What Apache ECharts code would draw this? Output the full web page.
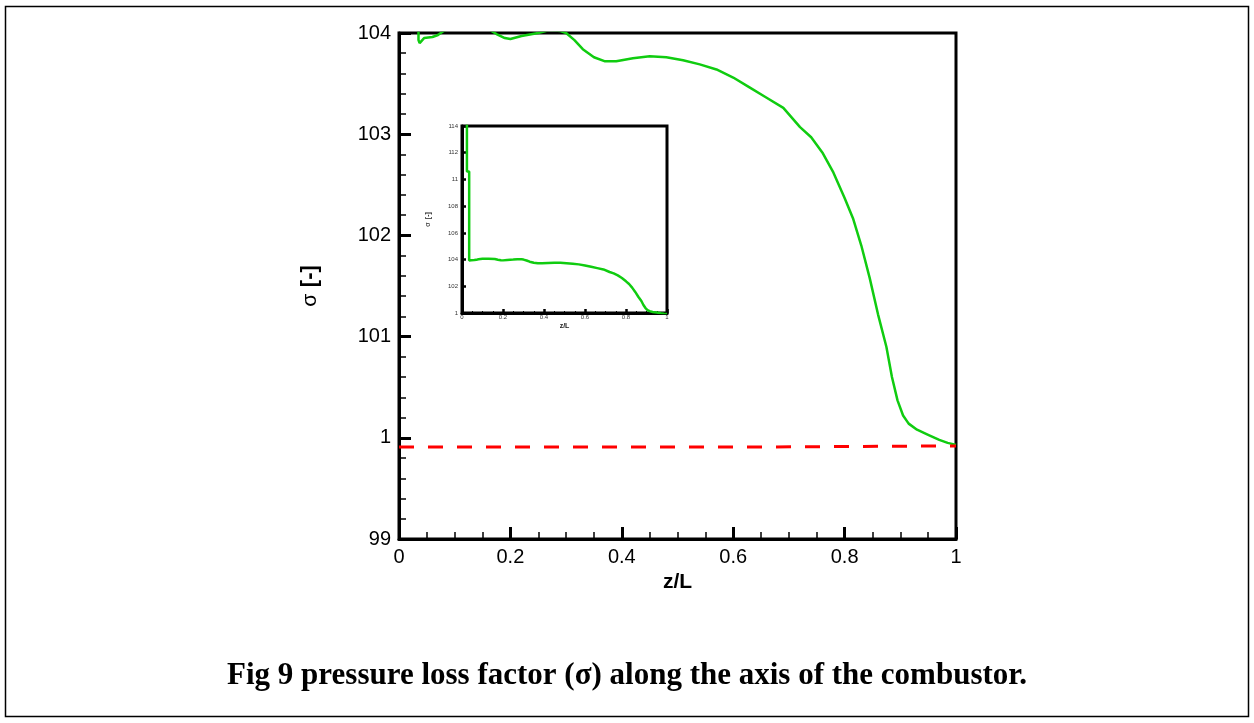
<!DOCTYPE html>
<html>
<head>
<meta charset="utf-8">
<script src="https://cdn.jsdelivr.net/npm/echarts@6/dist/echarts.min.js"></script>
<style>
  html, body { margin: 0; padding: 0; background: #fff; }
  #chart { width: 1254px; height: 723px; }
</style>
</head>
<body>
<div id="chart"></div>
<script>
// axial position z/L and pressure loss factor (green curve, also used for the inset)
const sigmaZ = [0.024, 0.024, 0.035, 0.035, 0.037, 0.045, 0.06, 0.07, 0.08, 0.10, 0.13, 0.16, 0.175, 0.19, 0.20, 0.22, 0.25, 0.27, 0.29, 0.30, 0.315, 0.33, 0.35, 0.37, 0.39, 0.42, 0.45, 0.48, 0.51, 0.54, 0.57, 0.60, 0.63, 0.66, 0.69, 0.72, 0.74, 0.76, 0.78, 0.80, 0.815, 0.83, 0.845, 0.86, 0.875, 0.885, 0.895, 0.905, 0.915, 0.93, 0.95, 0.97, 0.985, 1.0];
const sigmaVal = [115, 110.6, 110.6, 103.93, 103.9, 103.95, 103.96, 103.98, 104.02, 104.06, 104.07, 104.04, 103.99, 103.95, 103.94, 103.97, 104.0, 104.03, 104.02, 104.0, 103.93, 103.84, 103.76, 103.72, 103.72, 103.75, 103.77, 103.76, 103.73, 103.69, 103.64, 103.56, 103.46, 103.36, 103.26, 103.07, 102.97, 102.82, 102.62, 102.37, 102.17, 101.9, 101.58, 101.22, 100.9, 100.6, 100.37, 100.22, 100.14, 100.08, 100.03, 99.98, 99.95, 99.93];

// red dashed reference line
const refZ = [0, 0.668, 0.67, 1.0];
const refVal = [99.91, 99.91, 99.92, 99.92];

// tick labels as printed in the figure
const mainYTicks = [99, 100, 101, 102, 103, 104];
const mainYTickLabels = ['99', '1', '101', '102', '103', '104'];
const insetYTicks = [100, 102, 104, 106, 108, 110, 112, 114];
const insetYTickLabels = ['1', '102', '104', '106', '108', '11', '112', '114'];
const xTicks = [0, 0.2, 0.4, 0.6, 0.8, 1];
const xTickLabels = ['0', '0.2', '0.4', '0.6', '0.8', '1'];

const pairs = (xs, ys) => xs.map((x, i) => [x, ys[i]]);
const labelFor = (ticks, labels) => v => {
  const i = ticks.findIndex(t => Math.abs(t - v) < 1e-6);
  return i >= 0 ? labels[i] : '';
};

const chart = echarts.init(document.getElementById('chart'));

const option = {
  animation: false,
  backgroundColor: '#fff',
  title: {
    text: 'Fig 9 pressure loss factor (σ) along the axis of the combustor.',
    left: 'center',
    top: 655,
    textStyle: { fontFamily: 'Liberation Serif', fontWeight: 'bold', fontSize: 31, color: '#000' }
  },
  graphic: [{
    type: 'rect',
    shape: { x: 5.5, y: 6.5, width: 1243, height: 710 },
    style: { fill: 'none', stroke: '#000', lineWidth: 1.5 },
    silent: true
  }],
  grid: [
    { left: 399, right: 298, top: 33, bottom: 184, show: true, borderColor: '#000', borderWidth: 3 },
    { left: 462, width: 205, top: 126, height: 187, show: true, borderColor: '#000', borderWidth: 3, backgroundColor: '#fff' }
  ],
  xAxis: [{
    gridIndex: 0, type: 'value', min: 0, max: 1, interval: 0.2,
    name: 'z/L', nameLocation: 'middle', nameGap: 32,
    nameTextStyle: { fontFamily: 'Liberation Sans', fontWeight: 'bold', fontSize: 21, color: '#000' },
    axisLine: { lineStyle: { color: '#000', width: 3 } },
    axisTick: { inside: true, length: 12, lineStyle: { color: '#000', width: 3 } },
    minorTick: { show: true, splitNumber: 4, length: 7, lineStyle: { color: '#000', width: 1.5 } },
    splitLine: { show: false },
    axisLabel: { margin: 8, fontFamily: 'Liberation Sans', fontSize: 20, color: '#000', formatter: labelFor(xTicks, xTickLabels) }
  }, {
    gridIndex: 1, type: 'value', min: 0, max: 1, interval: 0.2,
    name: 'z/L', nameLocation: 'middle', nameGap: 10,
    nameTextStyle: { fontFamily: 'Liberation Sans', fontWeight: 'bold', fontSize: 7, color: '#222' },
    axisLine: { lineStyle: { color: '#000', width: 3 } },
    axisTick: { inside: true, length: 4, lineStyle: { color: '#000', width: 2.5 } },
    minorTick: { show: true, splitNumber: 4, length: 2, lineStyle: { color: '#000', width: 1 } },
    splitLine: { show: false },
    axisLabel: { margin: 1, fontFamily: 'Liberation Sans', fontSize: 6, color: '#333', formatter: labelFor(xTicks, xTickLabels) }
  }],
  yAxis: [{
    gridIndex: 0, type: 'value', min: 99, max: 104, interval: 1,
    name: '{s|σ}  {b|[-]}', nameLocation: 'middle', nameGap: 78, nameRotate: 90,
    nameTextStyle: {
      color: '#000',
      rich: {
        s: { fontFamily: 'Liberation Sans', fontSize: 21, color: '#000' },
        b: { fontFamily: 'Liberation Sans', fontWeight: 'bold', fontSize: 22, color: '#000' }
      }
    },
    axisLine: { lineStyle: { color: '#000', width: 3 } },
    axisTick: { inside: true, length: 12, lineStyle: { color: '#000', width: 3 } },
    minorTick: { show: true, splitNumber: 5, length: 7, lineStyle: { color: '#000', width: 1.5 } },
    splitLine: { show: false },
    axisLabel: { margin: 8, fontFamily: 'Liberation Sans', fontSize: 20, color: '#000', formatter: labelFor(mainYTicks, mainYTickLabels) }
  }, {
    gridIndex: 1, type: 'value', min: 100, max: 114, interval: 2,
    name: '{s|σ} {b|[-]}', nameLocation: 'middle', nameGap: 28, nameRotate: 90,
    nameTextStyle: {
      rich: {
        s: { fontFamily: 'Liberation Sans', fontSize: 7, color: '#222' },
        b: { fontFamily: 'Liberation Sans', fontWeight: 'bold', fontSize: 7, color: '#222' }
      }
    },
    axisLine: { lineStyle: { color: '#000', width: 3 } },
    axisTick: { inside: true, length: 4, lineStyle: { color: '#000', width: 2.5 } },
    minorTick: { show: true, splitNumber: 4, length: 2, lineStyle: { color: '#000', width: 1 } },
    splitLine: { show: false },
    axisLabel: { margin: 4, fontFamily: 'Liberation Sans', fontSize: 6, color: '#333', formatter: labelFor(insetYTicks, insetYTickLabels) }
  }],
  series: [{
    type: 'line', xAxisIndex: 0, yAxisIndex: 0, clip: true, symbol: 'none',
    data: pairs(sigmaZ, sigmaVal),
    lineStyle: { color: '#10cc10', width: 2.5 }
  }, {
    type: 'line', xAxisIndex: 0, yAxisIndex: 0, clip: true, symbol: 'none',
    data: pairs(refZ, refVal),
    lineStyle: { color: '#ff0000', width: 3, type: [15, 14] }
  }, {
    type: 'line', xAxisIndex: 1, yAxisIndex: 1, clip: true, symbol: 'none',
    data: pairs(sigmaZ, sigmaVal),
    lineStyle: { color: '#10cc10', width: 2.5 }
  }]
};

chart.setOption(option);
</script>
</body>
</html>
